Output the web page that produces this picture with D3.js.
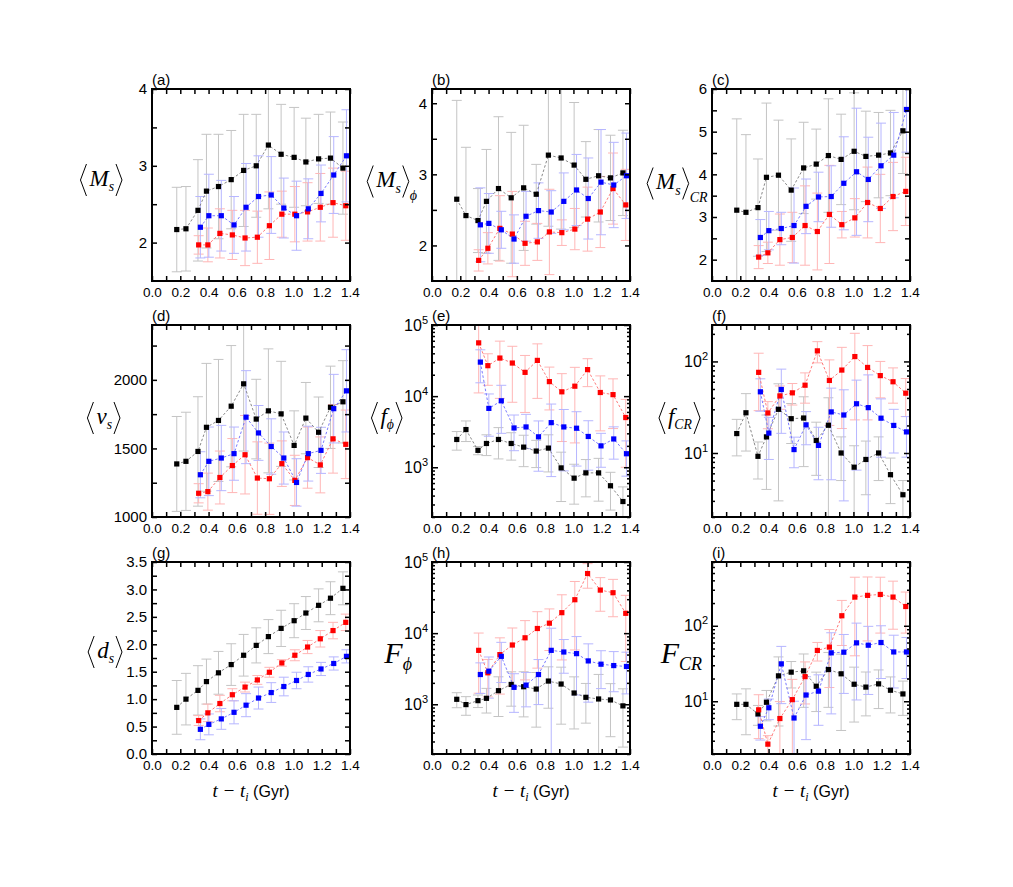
<!DOCTYPE html>
<html>
<head>
<meta charset="utf-8">
<script src="https://cdn.jsdelivr.net/npm/d3@7"></script>
<style>
  body { margin: 0; background: #fff; }
</style>
</head>
<body>
<svg id="fig" width="1013" height="887" font-family="'Liberation Sans', Arial, sans-serif"></svg>
<script>
// times (Gyr) for each group
var tBlack = [0.175, 0.24, 0.325, 0.385, 0.47, 0.56, 0.648, 0.737, 0.823, 0.913, 1.005, 1.088, 1.178, 1.262, 1.35];
var tRed   = [0.33, 0.395, 0.48, 0.568, 0.658, 0.745, 0.83, 0.918, 1.01, 1.10, 1.19, 1.28, 1.37];
var tBlue  = [0.342, 0.402, 0.49, 0.58, 0.665, 0.753, 0.843, 0.932, 1.022, 1.105, 1.195, 1.285, 1.375];

// (a) <M_s>
var msK  = [2.17, 2.18, 2.42, 2.67, 2.73, 2.82, 2.94, 3.0, 3.27, 3.15, 3.11, 3.05, 3.09, 3.1, 2.97];
var msKe = [0.55, 0.55, 0.66, 0.74, 0.68, 0.64, 0.73, 0.67, 0.83, 0.65, 0.65, 0.57, 0.58, 0.6, 0.6];
var msR  = [1.97, 1.97, 2.12, 2.10, 2.06, 2.07, 2.22, 2.37, 2.37, 2.40, 2.46, 2.52, 2.48];
var msRe = [0.12, 0.22, 0.32, 0.32, 0.36, 0.34, 0.44, 0.30, 0.36, 0.38, 0.44, 0.45, 0.45];
var msB  = [2.20, 2.35, 2.35, 2.23, 2.46, 2.60, 2.62, 2.45, 2.35, 2.44, 2.64, 2.88, 3.13];
var msBe = [0.40, 0.54, 0.46, 0.37, 0.57, 0.53, 0.50, 0.39, 0.45, 0.39, 0.37, 0.5, 0.6];

// (b) <M_s>_phi
var mpK  = [2.65, 2.42, 2.35, 2.62, 2.80, 2.67, 2.81, 2.72, 3.27, 3.23, 3.13, 2.93, 2.98, 2.95, 3.02];
var mpKe = [1.39, 0.96, 0.45, 0.73, 1.01, 0.92, 0.88, 0.42, 1.0, 1.0, 0.88, 0.53, 0.65, 0.6, 0.6];
var mpR  = [1.79, 1.96, 2.24, 2.16, 2.03, 2.05, 2.19, 2.18, 2.23, 2.37, 2.47, 2.80, 2.57];
var mpRe = [0.15, 0.22, 0.46, 0.6, 0.31, 0.26, 0.6, 0.18, 0.29, 0.45, 0.5, 0.5, 0.5];
var mpB  = [2.29, 2.31, 2.22, 2.09, 2.41, 2.49, 2.47, 2.62, 2.78, 2.66, 2.89, 2.85, 2.98];
var mpBe = [0.52, 0.42, 0.26, 0.34, 0.35, 0.39, 0.3, 0.4, 0.5, 0.57, 0.74, 0.6, 0.6];

// (c) <M_s>_CR
var mcK  = [3.16, 3.11, 3.22, 3.93, 3.98, 3.63, 4.15, 4.24, 4.44, 4.35, 4.54, 4.42, 4.45, 4.5, 5.02];
var mcKe = [2.14, 1.82, 1.14, 1.74, 1.29, 1.2, 1.07, 0.82, 1.33, 1.06, 1.37, 1.06, 1.0, 1.0, 1.0];
var mcR  = [2.06, 2.16, 2.47, 2.52, 2.80, 2.66, 3.06, 2.82, 2.98, 3.34, 3.2, 3.48, 3.6];
var mcRe = [0.27, 0.25, 0.6, 0.59, 0.93, 0.9, 1.15, 0.31, 0.45, 0.83, 0.8, 0.8, 0.8];
var mcB  = [2.52, 2.68, 2.73, 2.80, 3.25, 3.47, 3.48, 3.79, 4.06, 3.88, 4.2, 4.45, 5.52];
var mcBe = [0.42, 0.45, 0.38, 0.88, 0.64, 0.58, 0.72, 1.09, 1.49, 0.99, 1.0, 1.0, 1.0];

// (d) <v_s>
var vsK  = [1387, 1406, 1478, 1654, 1704, 1808, 1971, 1714, 1774, 1752, 1522, 1721, 1618, 1800, 1840];
var vsKe = [346, 358, 399, 466, 445, 442, 490, 290, 452, 383, 252, 260, 257, 300, 300];
var vsR  = [1173, 1185, 1288, 1375, 1454, 1284, 1279, 1389, 1267, 1433, 1380, 1570, 1530];
var vsRe = [70, 135, 193, 197, 286, 264, 260, 166, 183, 223, 204, 250, 250];
var vsB  = [1308, 1406, 1430, 1462, 1728, 1613, 1514, 1430, 1252, 1462, 1486, 1790, 1920];
var vsBe = [168, 250, 238, 194, 339, 200, 202, 190, 173, 200, 168, 250, 300];

// (e) <f_phi>
var fpK  = [2460, 3390, 1730, 2160, 2460, 2160, 1920, 1690, 1860, 980, 703, 834, 834, 550, 330];
var fpKe = [720, 1090, 230, 700, 1150, 900, 900, 700, 1000, 650, 400, 450, 500, 300, 200];
var fpR  = [56100, 26800, 34300, 29200, 21600, 31800, 16000, 11500, 13800, 23600, 11250, 10500, 5000];
var fpRe = [45000, 12600, 25000, 21000, 15700, 22500, 9600, 9200, 11600, 10000, 8000, 7000, 4000];
var fpB  = [30100, 6730, 8600, 3570, 3690, 2680, 4240, 3690, 3540, 2710, 2000, 2500, 1550];
var fpBe = [14700, 4000, 5600, 1860, 1860, 1800, 3500, 2800, 2500, 1800, 1000, 1200, 800];

// (f) <f_CR>
var fcK  = [16.3, 27.5, 9.2, 15.0, 30.0, 23.7, 24.1, 13.7, 20.1, 10, 7.0, 8.5, 10, 5.8, 3.5];
var fcKe = [7, 17, 4, 11, 27, 11, 17, 8, 20, 5, 5, 5, 5, 3, 1.5];
var fcR  = [76, 27.4, 42, 45.4, 55, 130.5, 62, 80.5, 113, 86, 70, 60, 45];
var fcRe = [47, 9, 12, 12, 20, 34, 42, 62, 90, 63, 30, 25, 20];
var fcB  = [46.6, 16.5, 49.4, 10.9, 20.3, 12.1, 28.1, 26, 34.5, 31.3, 24, 20, 17];
var fcBe = [18, 8, 33, 4, 8, 7, 23, 23, 28, 40, 15, 10, 8];

// (g) <d_s>
var dsK  = [0.85, 1.0, 1.16, 1.32, 1.48, 1.63, 1.80, 1.98, 2.14, 2.29, 2.43, 2.57, 2.71, 2.84, 3.02];
var dsKe = [0.49, 0.47, 0.45, 0.41, 0.39, 0.38, 0.38, 0.32, 0.31, 0.33, 0.31, 0.3, 0.3, 0.3, 0.3];
var dsR  = [0.61, 0.75, 0.92, 1.08, 1.22, 1.35, 1.49, 1.66, 1.80, 1.95, 2.10, 2.25, 2.40];
var dsRe = [0.09, 0.16, 0.15, 0.11, 0.09, 0.08, 0.09, 0.06, 0.1, 0.12, 0.15, 0.15, 0.15];
var dsB  = [0.45, 0.54, 0.64, 0.76, 0.89, 1.02, 1.12, 1.23, 1.34, 1.45, 1.55, 1.65, 1.78];
var dsBe = [0.19, 0.19, 0.19, 0.21, 0.21, 0.2, 0.18, 0.17, 0.15, 0.14, 0.12, 0.12, 0.12];

// (h) F_phi
var FpK  = [1175, 990, 1125, 1213, 1553, 1900, 1765, 1637, 2120, 1925, 1440, 1253, 1187, 1150, 950];
var FpKe = [280, 290, 225, 460, 880, 960, 1100, 1160, 1240, 1400, 990, 710, 1440, 800, 700];
var FpR  = [5730, 2770, 4990, 6810, 8600, 11620, 13800, 19400, 29500, 68800, 40300, 37000, 19000];
var FpRe = [4300, 1500, 3600, 5000, 6400, 8400, 8100, 15200, 23700, 26000, 20000, 20000, 15000];
var FpB  = [2620, 2920, 4720, 1730, 1860, 2620, 5730, 5430, 5150, 4070, 3660, 3500, 3400];
var FpBe = [1200, 1700, 2700, 960, 940, 1630, 6000, 2700, 3800, 3000, 2000, 2000, 2000];

// (i) F_CR
var FcK  = [9.1, 9.1, 6.8, 9.7, 21.7, 24.3, 25.3, 15.8, 26.3, 23.1, 16.8, 15.4, 17, 14, 12.5];
var FcKe = [3.4, 5.5, 2, 4.2, 17, 9.3, 17, 8.5, 18, 19, 11.5, 9, 9, 7, 6];
var FcR  = [7.7, 2.7, 5.9, 10.5, 21.2, 47.1, 52.2, 135.8, 240, 253, 260, 240, 180];
var FcRe = [4.5, 0.8, 4, 9, 12, 13, 37, 81, 200, 190, 180, 150, 100];
var FcB  = [4.66, 8.2, 31.3, 6.0, 12.1, 13.6, 43.8, 44.7, 59.4, 55.3, 60, 45, 45];
var FcBe = [1.6, 2.5, 22, 4, 9, 8.8, 37, 32, 49, 43, 40, 30, 25];

var xTickVals = d3.range(0, 15).map(function(i) { return i / 10; });

//Layout
var pw = 198, ph = 192;
var colLeft = [152, 432, 712], rowTop = [89, 325, 562];
var serif = "'Liberation Serif', 'DejaVu Serif', serif";

//group styles: black, red, blue
var sty = [
  {mark: "#000000", line: "#7a7a7a", err: "#c4c4c4"},
  {mark: "#ff0000", line: "#ff6a6a", err: "#ffb6b6"},
  {mark: "#0000ff", line: "#6a6aff", err: "#b6b6ff"}
];

var panels = [
  {id: "a", r: 0, c: 0, dom: [1.5, 4], major: [2, 3, 4], minor: [2.5, 3.5], fmt: d3.format("d"),
   s: [[tBlack, msK, msKe], [tRed, msR, msRe], [tBlue, msB, msBe]]},
  {id: "b", r: 0, c: 1, dom: [1.5, 4.2], major: [2, 3, 4], minor: [2.5, 3.5], fmt: d3.format("d"),
   s: [[tBlack, mpK, mpKe], [tRed, mpR, mpRe], [tBlue, mpB, mpBe]]},
  {id: "c", r: 0, c: 2, dom: [1.5, 6], major: [2, 3, 4, 5, 6], minor: [2.5, 3.5, 4.5, 5.5], fmt: d3.format("d"),
   s: [[tBlack, mcK, mcKe], [tRed, mcR, mcRe], [tBlue, mcB, mcBe]]},
  {id: "d", r: 1, c: 0, dom: [1000, 2400], major: [1000, 1500, 2000], minor: [1250, 1750, 2250], fmt: d3.format("d"),
   s: [[tBlack, vsK, vsKe], [tRed, vsR, vsRe], [tBlue, vsB, vsBe]]},
  {id: "e", r: 1, c: 1, log: true, dom: [200, 1e5],
   s: [[tBlack, fpK, fpKe], [tRed, fpR, fpRe], [tBlue, fpB, fpBe]]},
  {id: "f", r: 1, c: 2, log: true, dom: [2, 250],
   s: [[tBlack, fcK, fcKe], [tRed, fcR, fcRe], [tBlue, fcB, fcBe]]},
  {id: "g", r: 2, c: 0, dom: [0, 3.5], major: [0, 0.5, 1, 1.5, 2, 2.5, 3, 3.5], minor: [0.25, 0.75, 1.25, 1.75, 2.25, 2.75, 3.25], fmt: d3.format(".1f"),
   s: [[tBlack, dsK, dsKe], [tRed, dsR, dsRe], [tBlue, dsB, dsBe]]},
  {id: "h", r: 2, c: 1, log: true, dom: [200, 1e5],
   s: [[tBlack, FpK, FpKe], [tRed, FpR, FpRe], [tBlue, FpB, FpBe]]},
  {id: "i", r: 2, c: 2, log: true, dom: [2, 700],
   s: [[tBlack, FcK, FcKe], [tRed, FcR, FcRe], [tBlue, FcB, FcBe]]}
];

var svg = d3.select("#fig");

function logTicks(dom) {
  var out = [];
  for (var e = Math.floor(Math.log10(dom[0])); e <= Math.ceil(Math.log10(dom[1])); e++)
    for (var k = 1; k < 10; k++) {
      var v = k * Math.pow(10, e);
      if (v >= dom[0] * 0.999 && v <= dom[1] * 1.001) out.push({v: v, major: k == 1});
    }
  return out;
}

function styleAxis(g, size) {
  g.attr("font-family", null).attr("font-size", size);
  g.select(".domain").remove();
  g.selectAll("line").attr("stroke", "#000").attr("stroke-width", 1.5);
  g.selectAll("text").attr("fill", "#000");
}

panels.forEach(function(p) {
  var x0 = colLeft[p.c], y0 = rowTop[p.r];
  var g = svg.append("g").attr("transform", "translate(" + x0 + "," + y0 + ")");
  var x = d3.scaleLinear().domain([0, 1.4]).range([0, pw]);
  var y = (p.log ? d3.scaleLog() : d3.scaleLinear()).domain(p.dom).range([ph, 0]);

  g.append("clipPath").attr("id", "clip" + p.id)
    .append("rect").attr("width", pw).attr("height", ph);
  var plot = g.append("g").attr("clip-path", "url(#clip" + p.id + ")");

  function lowY(v) { return p.log ? Math.max(v, p.dom[0] * 0.3) : v; }

  //error bars
  p.s.forEach(function(s, k) {
    var pts = s[0].map(function(t, i) { return {t: t, v: s[1][i], e: s[2][i]}; });
    var eg = plot.append("g").attr("stroke", sty[k].err).attr("stroke-width", 1).attr("fill", "none");
    eg.selectAll("path").data(pts).enter().append("path")
      .attr("d", function(d) {
        var xx = x(d.t), yt = y(d.v + d.e), yb = y(lowY(d.v - d.e));
        return "M" + xx + "," + yt + "V" + yb +
               "M" + (xx - 5) + "," + yt + "H" + (xx + 5) +
               "M" + (xx - 5) + "," + yb + "H" + (xx + 5);
      });
  });
  //dashed connectors
  p.s.forEach(function(s, k) {
    var line = d3.line().x(function(d) { return x(d[0]); }).y(function(d) { return y(d[1]); });
    plot.append("path").datum(s[0].map(function(t, i) { return [t, s[1][i]]; }))
      .attr("d", line).attr("fill", "none").attr("stroke", sty[k].line)
      .attr("stroke-width", 0.9).attr("stroke-dasharray", "2.5,2");
  });
  //markers
  p.s.forEach(function(s, k) {
    plot.append("g").selectAll("rect").data(s[0].map(function(t, i) { return [t, s[1][i]]; }))
      .enter().append("rect")
      .attr("x", function(d) { return x(d[0]) - 2.6; })
      .attr("y", function(d) { return y(d[1]) - 2.6; })
      .attr("width", 5.2).attr("height", 5.2).attr("fill", sty[k].mark);
  });

  //x axes
  g.append("g").attr("transform", "translate(0," + ph + ")")
    .call(d3.axisBottom(x).tickValues(xTickVals).tickSize(-5).tickPadding(6)
      .tickFormat(function(d, i) { return i % 2 == 0 ? d3.format(".1f")(d) : ""; }))
    .call(styleAxis, 13.5);
  g.append("g")
    .call(d3.axisTop(x).tickValues(xTickVals).tickSize(-5).tickFormat(""))
    .call(styleAxis, 13.5);

  //y axes
  if (!p.log) {
    var all = p.major.concat(p.minor);
    g.append("g").call(d3.axisLeft(y).tickValues(all).tickSize(-5).tickPadding(5)
      .tickFormat(function(d) { return p.major.indexOf(d) >= 0 ? p.fmt(d) : ""; }))
      .call(styleAxis, 15);
    g.append("g").attr("transform", "translate(" + pw + ",0)")
      .call(d3.axisRight(y).tickValues(all).tickSize(-5).tickFormat(""))
      .call(styleAxis, 15);
  } else {
    var lt = logTicks(p.dom);
    var maj = lt.filter(function(d) { return d.major; }).map(function(d) { return d.v; });
    var mnr = lt.filter(function(d) { return !d.major; }).map(function(d) { return d.v; });
    var la = g.append("g").call(d3.axisLeft(y).tickValues(maj).tickSize(-6).tickPadding(4).tickFormat(""))
      .call(styleAxis, 16);
    la.selectAll(".tick text").each(function(d) {
      var t = d3.select(this);
      t.append("tspan").text("10");
      t.append("tspan").attr("font-size", 11).attr("dy", -7).text(Math.round(Math.log10(d)));
    });
    g.append("g").call(d3.axisLeft(y).tickValues(mnr).tickSize(-3).tickFormat("")).call(styleAxis, 15);
    g.append("g").attr("transform", "translate(" + pw + ",0)")
      .call(d3.axisRight(y).tickValues(maj).tickSize(-6).tickFormat("")).call(styleAxis, 15);
    g.append("g").attr("transform", "translate(" + pw + ",0)")
      .call(d3.axisRight(y).tickValues(mnr).tickSize(-3).tickFormat("")).call(styleAxis, 15);
  }

  //frame
  g.append("rect").attr("width", pw).attr("height", ph)
    .attr("fill", "none").attr("stroke", "#000").attr("stroke-width", 2);

  g.append("text").attr("x", 0).attr("y", -4).attr("font-size", 15).text("(" + p.id + ")");
});

//y titles with angle brackets
function yTitle(xRight, cy, spec) {
  var g = svg.append("g");
  var fs = spec.fs || 23, bw = 6, bh = 32;
  var x0 = spec.br ? bw + 3 : 0;
  var t = g.append("text").attr("x", x0).attr("y", 0)
    .attr("font-family", serif).attr("font-style", "italic").attr("font-size", fs);
  t.append("tspan").text(spec.main);
  if (spec.sub) t.append("tspan").attr("font-size", fs * 0.6).attr("dy", fs * 0.24).text(spec.sub);
  var right = x0 + t.node().getComputedTextLength();
  var mid = -fs * 0.25;
  if (spec.br) {
    g.append("path").attr("d", "M" + bw + "," + (mid - bh / 2) + "L0," + mid + "L" + bw + "," + (mid + bh / 2))
      .attr("fill", "none").attr("stroke", "#000").attr("stroke-width", 1);
    g.append("path").attr("d", "M" + (right + 2) + "," + (mid - bh / 2) + "L" + (right + 2 + bw) + "," + mid + "L" + (right + 2) + "," + (mid + bh / 2))
      .attr("fill", "none").attr("stroke", "#000").attr("stroke-width", 1);
    right += 2 + bw;
  }
  if (spec.after) {
    g.append("text").attr("x", right + 1).attr("y", mid + bh / 2 + 2)
      .attr("font-family", serif).attr("font-style", "italic").attr("font-size", 14).text(spec.after);
  }
  var bb = g.node().getBBox();
  g.attr("transform", "translate(" + (xRight - bb.x - bb.width) + "," + (cy - bb.y - bb.height / 2) + ")");
}

yTitle(122, 180, {br: true, main: "M", sub: "s"});
yTitle(417, 184, {br: true, main: "M", sub: "s", after: "\u03d5"});
yTitle(708, 186, {br: true, main: "M", sub: "s", after: "CR"});
yTitle(120, 418, {br: true, main: "v", sub: "s"});
yTitle(402, 418, {br: true, main: "f", sub: "\u03d5"});
yTitle(700, 418, {br: true, main: "f", sub: "CR"});
yTitle(122, 652, {br: true, main: "d", sub: "s"});
yTitle(412, 655, {main: "F", sub: "\u03d5", fs: 30});
yTitle(702, 655, {main: "F", sub: "CR", fs: 30});

//x titles
colLeft.forEach(function(cx) {
  var t = svg.append("text").attr("x", cx + pw / 2).attr("y", 797).attr("text-anchor", "middle");
  t.append("tspan").attr("font-family", serif).attr("font-style", "italic").attr("font-size", 19).text("t \u2212 t");
  t.append("tspan").attr("font-family", serif).attr("font-style", "italic").attr("font-size", 12).attr("dy", 4).text("i");
  t.append("tspan").attr("font-size", 16).attr("dy", -4).text(" (Gyr)");
});
</script>
</body>
</html>
